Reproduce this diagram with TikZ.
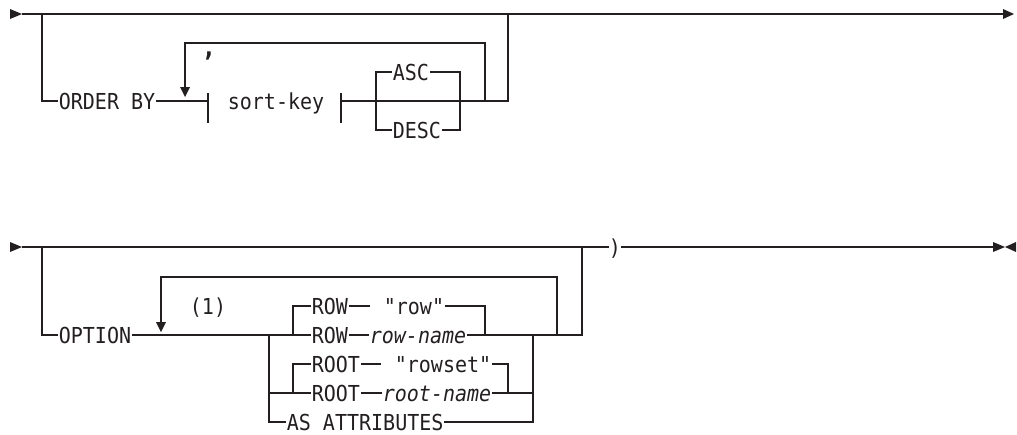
\documentclass[tikz,border=0pt]{standalone}
\usepackage{fontspec}
\newfontfamily\rrfont[FakeStretch=0.91]{DejaVu Sans Mono}
\definecolor{ink}{HTML}{231F20}
\begin{document}
\begin{tikzpicture}[x=1pt,y=-1pt, line width=1.4pt, draw=ink, fill=ink, text=ink,
  lbl/.style={inner sep=0pt, outer sep=0.8pt, anchor=west, font=\rrfont\fontsize{22}{26}\selectfont, text height=16pt, text depth=0pt},
  ilbl/.style={lbl, font=\rrfont\itshape\fontsize{22}{26}\selectfont},
  tip/.style={fill=ink, draw=none}]
\useasboundingbox (0,0) rectangle (1017,434);

% ---------------- diagram 1 ----------------
\coordinate (s1) at (22,14);
\coordinate (e1) at (1003,14);
\coordinate (j1) at (42,14);
\coordinate (j2) at (508,14);
\fill[tip] (s1) -- ++(-12,-5) -- ++(0,10) -- cycle;
\fill[tip] (e1) ++(11,0) -- ++(-11,-5) -- ++(0,10) -- cycle;
\draw (s1) -- (e1);

\node[lbl] (orderby) at (58,101) {ORDER BY};
\draw (j1) |- (orderby.west);
\coordinate (bl) at (208,101);
\coordinate (br) at (341,101);
\draw (orderby.east) -- (bl);
\draw (208,93) -- (208,123);
\node[lbl] (sortkey) at (227,101) {sort-key};
\draw (341,93) -- (341,123);
\coordinate (ob) at (508,101);
\draw (br) -- (ob) -- (j2);

\coordinate (a1) at (376,101);
\coordinate (a2) at (460,101);
\node[lbl] (asc) at (392,72) {ASC};
\node[lbl] (desc) at (392,130) {DESC};
\draw (a1) |- (asc.west);
\draw (asc.east) -| (a2);
\draw (a1) |- (desc.west);
\draw (desc.east) -| (a2);

\coordinate (lp) at (485,101);
\coordinate (lt) at (185,43);
\coordinate (ld) at (185,88);
\draw (lp) |- (lt) -- (ld);
\fill[tip] (185,97) -- ++(-5,-10) -- ++(10,0) -- cycle;
\node[inner sep=0pt, anchor=base, font=\rrfont\bfseries\fontsize{26}{30}\selectfont] (comma) at (209,56) {,};

% ---------------- diagram 2 ----------------
\coordinate (s2) at (22,247);
\coordinate (k1) at (42,247);
\coordinate (k2) at (582,247);
\coordinate (e2) at (993,247);
\fill[tip] (s2) -- ++(-12,-5) -- ++(0,10) -- cycle;
\node[lbl, anchor=center, outer sep=0pt] (paren) at (615,247) {)};
\draw (s2) -- (paren.west);
\draw (paren.east) -- (e2);
\fill[tip] (993,242) -- (1005,247) -- (993,252) -- cycle;
\fill[tip] (1016,242) -- (1005,247) -- (1016,252) -- cycle;

\node[lbl] (option) at (58,335) {OPTION};
\draw (k1) |- (option.west);
\coordinate (m1) at (269,335);
\coordinate (g1) at (293,335);
\node[lbl] (row1) at (311,306) {ROW};
\node[lbl] (row2) at (311,335) {ROW};
\draw (option.east) -- (row2.west);
\draw (g1) |- (row1.west);

\coordinate (l2) at (557,335);
\coordinate (lt2) at (161,277);
\coordinate (ld2) at (161,323);
\draw (l2) |- (lt2) -- (ld2);
\fill[tip] (161,332) -- ++(-5,-10) -- ++(10,0) -- cycle;
\node[lbl, anchor=center] (note) at (208,306) {(1)};

\coordinate (d1) at (370,306);
\draw (row1.east) -- (d1);
\node[lbl] (rowq) at (383,306) {"row"};
\coordinate (rr) at (485,335);
\draw (rowq.east) -| (rr);
\node[ilbl] (rowname) at (369,335) {row-name};
\draw (row2.east) -- (rowname.west);
\coordinate (k2b) at (582,335);
\draw (rowname.east) -- (k2b) -- (k2);

\coordinate (m2) at (269,393);
\coordinate (g2) at (293,393);
\node[lbl] (root1) at (311,364) {ROOT};
\node[lbl] (root2) at (311,393) {ROOT};
\draw (m2) -- (root2.west);
\draw (g2) |- (root1.west);
\coordinate (d2) at (381,364);
\draw (root1.east) -- (d2);
\node[lbl] (rowset) at (394,364) {"rowset"};
\coordinate (rs) at (508,393);
\draw (rowset.east) -| (rs);
\node[ilbl] (rootname) at (382,393) {root-name};
\draw (root2.east) -- (rootname.west);
\coordinate (m3b) at (533,393);
\draw (rootname.east) -- (m3b);

\node[lbl] (asattr) at (286,422) {AS ATTRIBUTES};
\draw (m1) |- (asattr.west);
\coordinate (m3) at (533,335);
\draw (asattr.east) -| (m3);
\end{tikzpicture}
\end{document}
